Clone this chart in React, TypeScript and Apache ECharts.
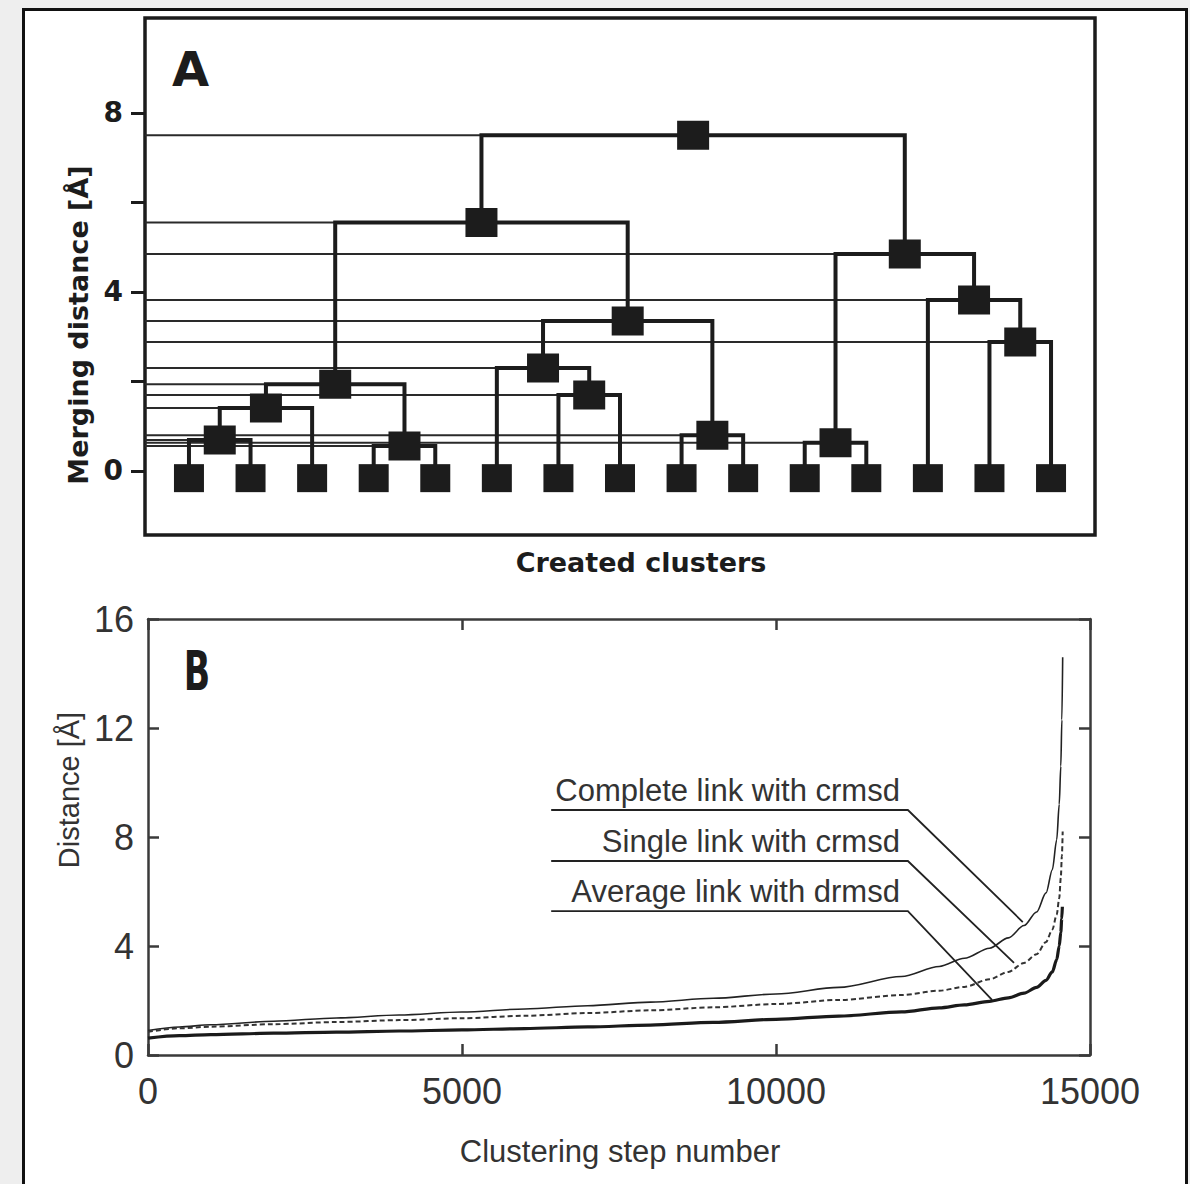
import React, { useEffect, useRef } from 'react';
import * as echarts from 'echarts';

// ---------- Panel A: dendrogram data ----------
const leafCount = 15;
// merges in order; ids 0..14 are leaves, 15.. are created clusters
const mergeLeft = [3, 10, 0, 8, 17, 6, 19, 5, 13, 22, 12, 16, 21, 27];
const mergeRight = [4, 11, 1, 9, 2, 7, 15, 20, 14, 18, 23, 25, 24, 26];
const mergeHeight = [0.56, 0.63, 0.69, 0.8, 1.41, 1.7, 1.94, 2.3, 2.88, 3.35, 3.82, 4.85, 5.55, 7.5];
const yTicksA = [0, 2, 4, 6, 8];
const yLabelsA = [0, 4, 8];

// ---------- Panel B: distance vs clustering step ----------
const completeSteps = [0, 500, 1000, 2000, 3000, 4000, 5000, 6000, 7000, 8000, 9000, 10000, 11000, 12000, 12600, 13000, 13400, 13700, 13950, 14150, 14300, 14400, 14470, 14510, 14535, 14552, 14565];
const completeDist = [0.9, 1.03, 1.11, 1.24, 1.36, 1.47, 1.58, 1.69, 1.81, 1.94, 2.08, 2.24, 2.48, 2.88, 3.25, 3.55, 3.92, 4.3, 4.75, 5.25, 5.95, 6.8, 7.9, 9.2, 10.6, 12.3, 14.6];
const singleSteps = [0, 500, 1000, 2000, 3000, 4000, 5000, 6000, 7000, 8000, 9000, 10000, 11000, 12000, 12600, 13000, 13400, 13700, 13950, 14150, 14300, 14400, 14470, 14510, 14535, 14552, 14565];
const singleDist = [0.85, 0.98, 1.04, 1.13, 1.21, 1.28, 1.35, 1.44, 1.54, 1.64, 1.75, 1.87, 2.02, 2.2, 2.36, 2.5, 2.78, 3.05, 3.38, 3.7, 4.15, 4.6, 5.15, 5.75, 6.5, 7.3, 8.2];
const averageSteps = [0, 500, 1000, 2000, 3000, 4000, 5000, 6000, 7000, 8000, 9000, 10000, 11000, 12000, 12600, 13000, 13400, 13700, 13950, 14150, 14300, 14400, 14470, 14510, 14535, 14550, 14560];
const averageDist = [0.62, 0.71, 0.75, 0.8, 0.84, 0.88, 0.92, 0.97, 1.03, 1.1, 1.2, 1.31, 1.43, 1.58, 1.73, 1.84, 1.97, 2.1, 2.27, 2.48, 2.74, 3.05, 3.5, 4.0, 4.5, 5.0, 5.44];

const annotLabels = ['Complete link with crmsd', 'Single link with crmsd', 'Average link with drmsd'];
const annotStartX = [6420, 6420, 6420];
const annotElbowX = [12100, 12100, 12100];
const annotY = [8.99, 7.12, 5.28];
const annotTargetX = [13930, 13790, 13440];
const annotTargetY = [4.88, 3.38, 2.02];

const xTicksB = { min: 0, max: 15000, interval: 5000 };
const yTicksB = { min: 0, max: 16, interval: 4 };

const X_MIN_A = 0.286;
const X_MAX_A = 15.714;
const LEAF_Y = -0.16;

const FONT_A = '"DejaVu Sans", sans-serif';
const FONT_B = '"Liberation Sans", Arial, sans-serif';
const INK = '#1c1c1c';

export default function App() {
  const ref = useRef<HTMLDivElement>(null);

  useEffect(() => {
    const chart = echarts.init(ref.current!, null, { renderer: 'svg' });

    const xs: number[] = [];
    const hs: number[] = [];
    for (let i = 0; i < leafCount; i++) {
      xs.push(i + 1);
      hs.push(0);
    }
    const brackets: any[] = [];
    const guides: any[] = [];
    const nodes: number[][] = [];
    mergeLeft.forEach((l, k) => {
      const r = mergeRight[k];
      const h = mergeHeight[k];
      const xl = xs[l];
      const xr = xs[r];
      brackets.push({ coords: [[xl, hs[l]], [xl, h], [xr, h], [xr, hs[r]]] });
      guides.push({ coords: [[X_MIN_A, h], [Math.min(xl, xr), h]] });
      const xm = (xl + xr) / 2;
      xs.push(xm);
      hs.push(h);
      nodes.push([xm, h]);
    });
    const leaves = Array.from({ length: leafCount }, (_, i) => [i + 1, LEAF_Y]);

    const annotLines = annotLabels.map((name, i) => ({
      name,
      coords: [
        [annotStartX[i], annotY[i]],
        [annotElbowX[i], annotY[i]],
        [annotTargetX[i], annotTargetY[i]],
      ],
    }));

    const axisB = (pos: string, labels: boolean, isX: boolean) => ({
      gridIndex: 1,
      type: 'value',
      position: pos,
      ...(isX ? xTicksB : yTicksB),
      axisLine: { show: true, onZero: false, lineStyle: { color: '#3a3a3a', width: 2.5 } },
      axisTick: { show: true, inside: true, length: 11, lineStyle: { color: '#3a3a3a', width: 2.5 } },
      axisLabel: {
        show: labels,
        fontFamily: FONT_B,
        fontSize: 36,
        color: '#333',
        margin: isX ? 18 : 14,
        formatter: (v: number) => String(v),
      },
      splitLine: { show: false },
    });

    const curve = (name: string, steps: number[], dist: number[], lineStyle: any) => ({
      name,
      type: 'line',
      xAxisIndex: 1,
      yAxisIndex: 1,
      showSymbol: false,
      smooth: 0.3,
      smoothMonotone: 'x',
      data: steps.map((s, i) => [s, dist[i]]),
      lineStyle,
      z: 4,
      silent: true,
    });

    const option: any = {
      animation: false,
      grid: [
        { left: 145, top: 18, width: 950, height: 517, show: true, borderColor: INK, borderWidth: 3.5, backgroundColor: 'transparent' },
        { left: 148, top: 619, width: 942, height: 436, show: false },
      ],
      xAxis: [
        { gridIndex: 0, type: 'value', min: X_MIN_A, max: X_MAX_A, show: false, splitLine: { show: false } },
        axisB('bottom', true, true),
        axisB('top', false, true),
      ],
      yAxis: [
        {
          gridIndex: 0,
          type: 'value',
          min: -1.43,
          max: 10.12,
          axisLine: { show: false, onZero: false },
          axisTick: { show: true, customValues: yTicksA, length: 14, lineStyle: { color: INK, width: 3 } },
          axisLabel: { customValues: yLabelsA, fontFamily: FONT_A, fontWeight: 'bold', fontSize: 28, color: INK, margin: 22 },
          splitLine: { show: false },
        },
        axisB('left', true, false),
        axisB('right', false, false),
      ],
      series: [
        {
          type: 'lines', coordinateSystem: 'cartesian2d', xAxisIndex: 0, yAxisIndex: 0, polyline: true, silent: true,
          data: guides, lineStyle: { color: '#2a2a2a', width: 2, opacity: 1 }, z: 2,
        },
        {
          type: 'lines', coordinateSystem: 'cartesian2d', xAxisIndex: 0, yAxisIndex: 0, polyline: true, silent: true,
          data: brackets, lineStyle: { color: INK, width: 4, opacity: 1, cap: 'square', join: 'miter' }, z: 3,
        },
        {
          type: 'scatter', xAxisIndex: 0, yAxisIndex: 0, symbol: 'rect', symbolSize: [32, 29],
          data: nodes, itemStyle: { color: INK, opacity: 1 }, z: 5, silent: true,
        },
        {
          type: 'scatter', xAxisIndex: 0, yAxisIndex: 0, symbol: 'rect', symbolSize: [30, 28],
          data: leaves, itemStyle: { color: INK, opacity: 1 }, z: 5, silent: true,
        },
        curve('Complete link with crmsd', completeSteps, completeDist, { color: '#222', width: 1.6 }),
        curve('Single link with crmsd', singleSteps, singleDist, { color: '#333', width: 2, type: [5, 3] }),
        curve('Average link with drmsd', averageSteps, averageDist, { color: '#1a1a1a', width: 3.2 }),
        {
          type: 'lines', coordinateSystem: 'cartesian2d', xAxisIndex: 1, yAxisIndex: 1, polyline: true, silent: true,
          data: annotLines, lineStyle: { color: '#222', width: 1.8, opacity: 1 }, z: 3,
        },
      ],
    };
    chart.setOption(option);

    const annotTexts = annotLabels.map((label, i) => {
      const p = chart.convertToPixel({ gridIndex: 1 } as any, [annotElbowX[i], annotY[i]]) as number[];
      return {
        type: 'text',
        x: p[0] - 8,
        y: p[1] - 4,
        z: 50,
        silent: true,
        style: {
          text: label,
          fontFamily: FONT_B,
          fontSize: 31,
          fill: '#333',
          align: 'right',
          verticalAlign: 'bottom',
          textAlign: 'right',
          textVerticalAlign: 'bottom',
        },
      };
    });

    const txt = (text: string, x: number, y: number, size: number, opts: any = {}) => ({
      type: 'text',
      x,
      y,
      z: 50,
      silent: true,
      rotation: opts.rotation || 0,
      scaleX: opts.scaleX || 1,
      style: {
        text,
        fontFamily: opts.font || FONT_A,
        fontWeight: opts.weight || 'bold',
        fontSize: size,
        fill: opts.fill || INK,
        align: opts.align || 'center',
        verticalAlign: 'middle',
        textAlign: opts.align || 'center',
        textVerticalAlign: 'middle',
      },
    });

    chart.setOption({
      graphic: [
        { type: 'rect', z: -20, silent: true, shape: { x: 0, y: 0, width: 1190, height: 1184 }, style: { fill: '#eeeeee' } },
        { type: 'rect', z: -19, silent: true, shape: { x: 23.5, y: 9.5, width: 1163, height: 1200 }, style: { fill: '#ffffff', stroke: '#111', lineWidth: 3 } },
        txt('A', 172, 69, 48, { align: 'left' }),
        txt('Merging distance [Å]', 78, 325, 27, { rotation: Math.PI / 2 }),
        txt('Created clusters', 641, 562, 27),
        txt('B', 197, 671, 56, { scaleX: 0.62 }),
        txt('Distance [Å]', 69, 790, 29, { rotation: Math.PI / 2, font: FONT_B, weight: 'normal', fill: '#333' }),
        txt('Clustering step number', 620, 1151, 31, { font: FONT_B, weight: 'normal', fill: '#333' }),
        ...annotTexts,
      ],
    });

    return () => chart.dispose();
  }, []);

  return <div ref={ref} style={{ position: 'absolute', left: 0, top: 0, width: 1190, height: 1184 }} />;
}
